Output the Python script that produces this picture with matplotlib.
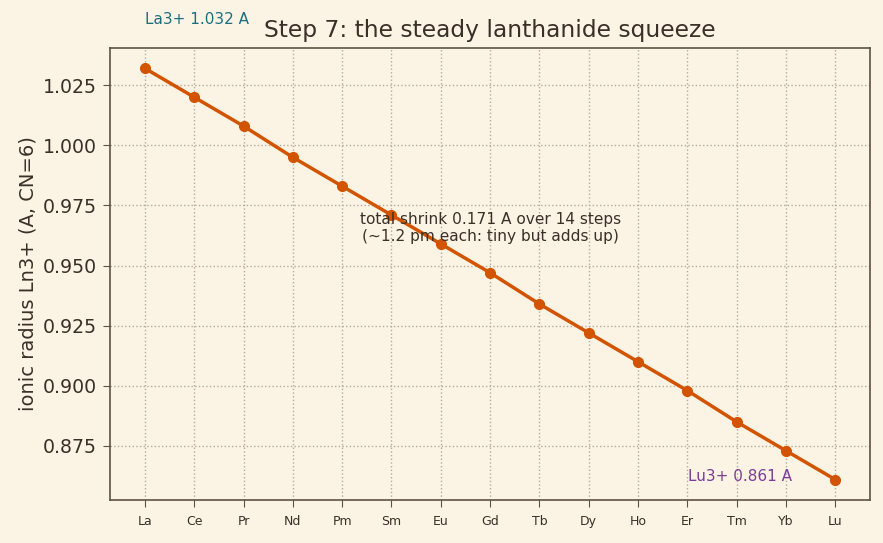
import matplotlib
matplotlib.use("Agg")
import matplotlib.pyplot as plt

elements = ["La", "Ce", "Pr", "Nd", "Pm", "Sm", "Eu", "Gd",
            "Tb", "Dy", "Ho", "Er", "Tm", "Yb", "Lu"]
radius = [1.032, 1.020, 1.008, 0.995, 0.983, 0.971, 0.959, 0.947,
          0.934, 0.922, 0.910, 0.898, 0.885, 0.873, 0.861]

bg = "#FBF3E4"
ink = "#3a3027"
spine = "#5e5242"

fig, ax = plt.subplots(figsize=(8.83, 5.43), dpi=100)
fig.patch.set_facecolor(bg)
ax.set_facecolor(bg)

x = list(range(len(elements)))
ax.plot(x, radius, "o-", color="#D35400", lw=2.5, ms=7)

ax.set_xticks(x)
ax.set_xticklabels(elements, fontsize=9, color=ink)
ax.tick_params(axis="x", pad=6)
ax.tick_params(axis="y", labelsize=13.6, colors=ink, pad=4.5)
ax.tick_params(axis="both", color=spine, length=5)
for s in ax.spines.values():
    s.set_color(spine)
    s.set_linewidth(1.2)
ax.grid(True, linestyle=":", color="#b5ab9b", lw=1)

ax.set_ylabel("ionic radius Ln3+ (A, CN=6)", fontsize=14, color=ink)
ax.set_title("Step 7: the steady lanthanide squeeze", fontsize=16.8, color=ink, pad=7.5)

ax.annotate(f"La3+ {radius[0]:.3f} A", (x[0], radius[0]), xytext=(0, 35),
            textcoords="offset points", ha="left", va="center",
            fontsize=11, color="#1a7080", annotation_clip=False)
ax.annotate(f"Lu3+ {radius[-1]:.3f} A", (x[-1], radius[-1]), xytext=(-31, 2),
            textcoords="offset points", ha="right", va="center",
            fontsize=11, color="#7d3c98")
shrink = radius[0] - radius[-1]
ax.text(7, 0.9655, f"total shrink {shrink:.3f} A over {len(elements) - 1} steps\n"
        f"(~{shrink / (len(elements) - 1) * 100:.1f} pm each: tiny but adds up)",
        ha="center", va="center", fontsize=11.1, color=ink)

fig.subplots_adjust(left=0.125, right=0.985, top=0.912, bottom=0.079)
fig.savefig("out.png", dpi=100, facecolor=bg)
